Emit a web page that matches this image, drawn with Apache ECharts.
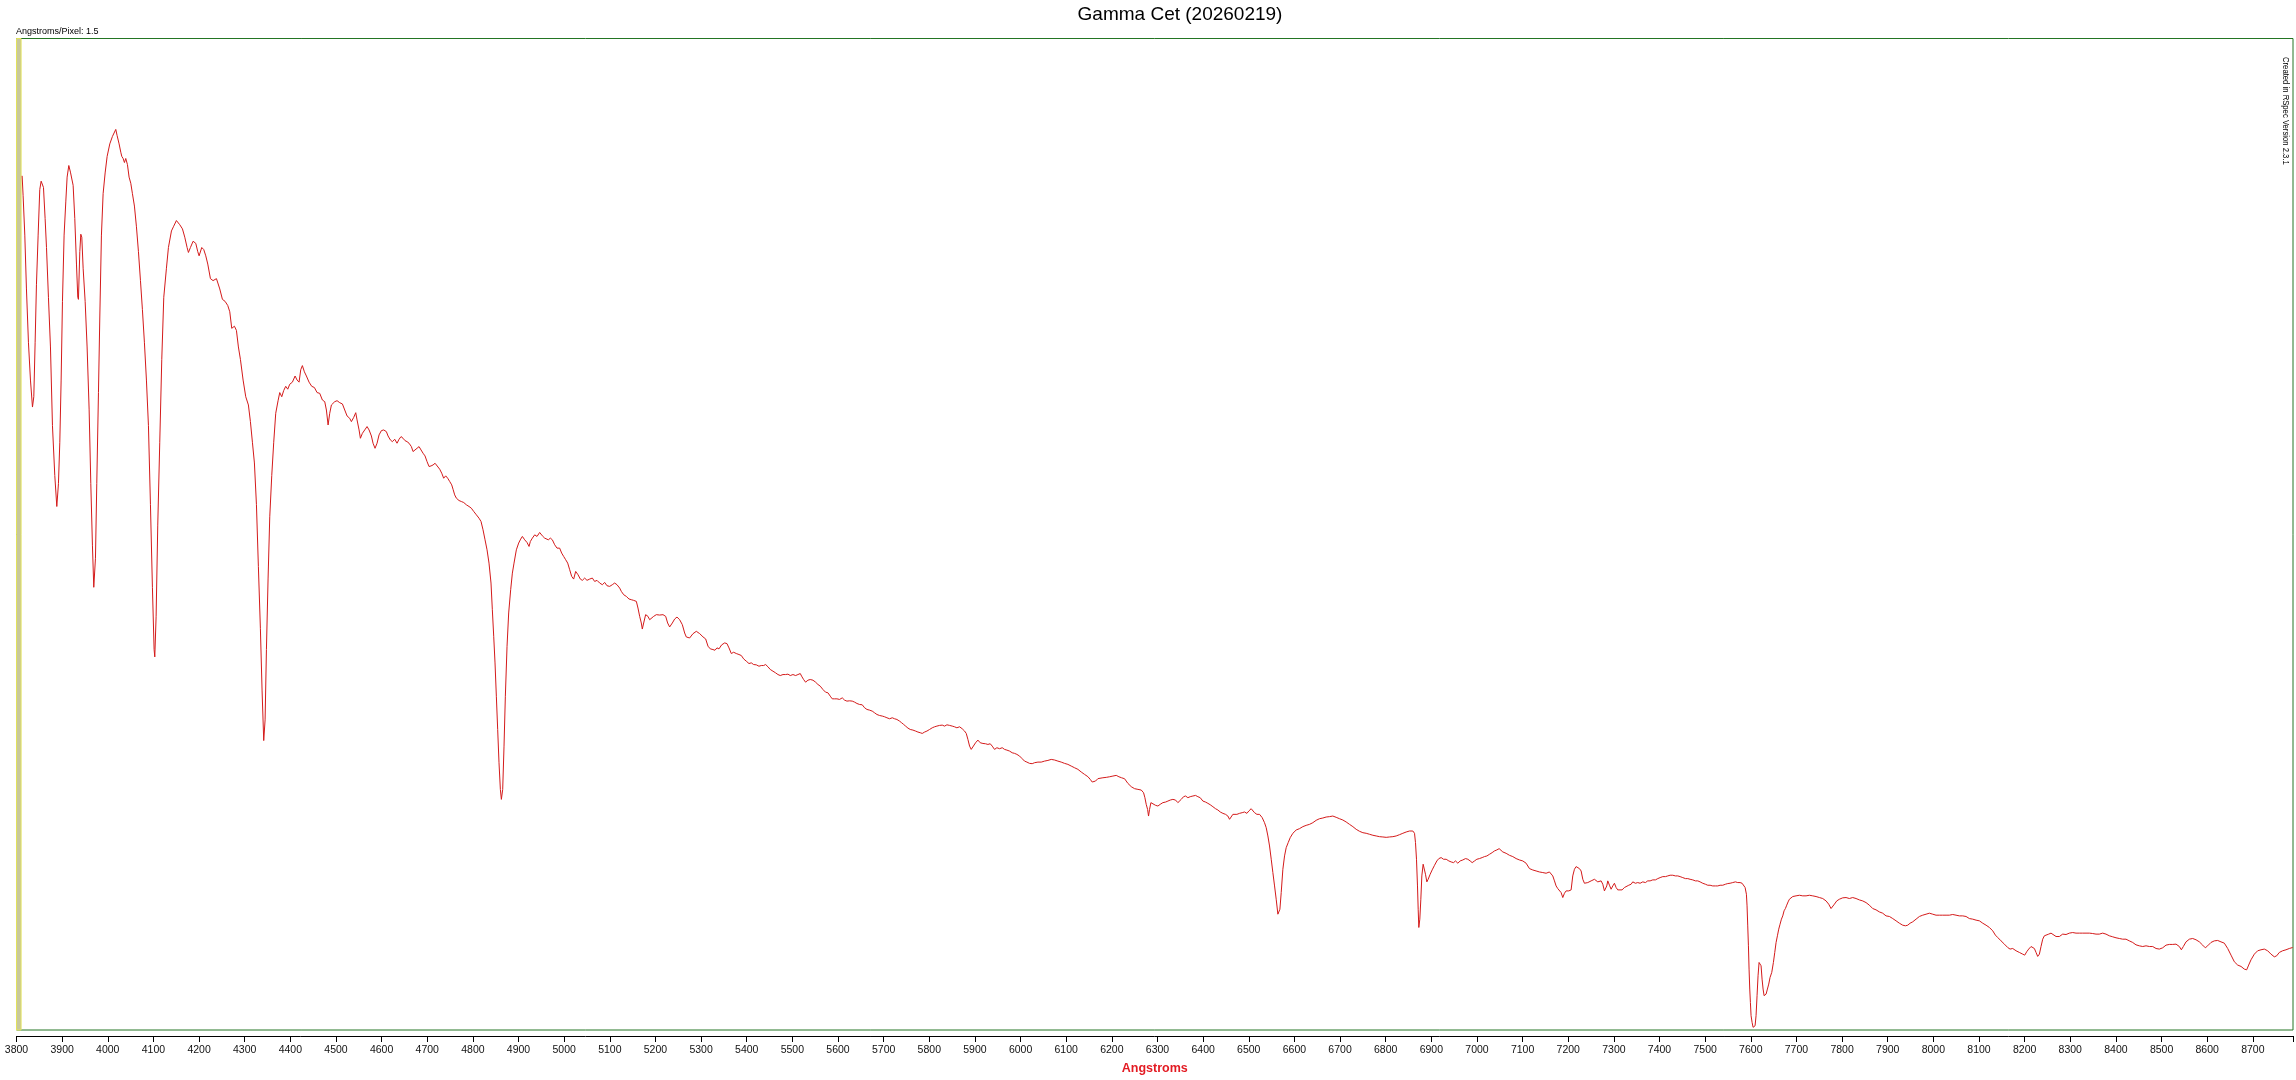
<!DOCTYPE html>
<html>
<head>
<meta charset="utf-8">
<script src="https://cdn.jsdelivr.net/npm/echarts@6/dist/echarts.min.js"></script>
<style>
html,body{margin:0;padding:0;background:#fff;}
#c{width:2296px;height:1080px;}
</style>
</head>
<body>
<div id="c"></div>
<script>
// Wavelength (Angstrom) / relative flux pairs, by spectral segment
const segBlue = [[3812.3,86.15],[3814.5,84.14],[3818.2,80.17],[3821.8,74.74],[3826.2,69.31],[3830.6,65.55],[3835.0,62.83],[3837.9,63.87],[3840.8,69.31],[3843.7,75.16],[3847.4,80.17],[3851.0,84.77],[3854.0,85.61],[3856.9,85.69],[3859.1,84.98],[3862.7,81.84],[3865.7,78.92],[3870.0,73.90],[3874.4,68.89],[3878.8,60.95],[3883.9,55.93],[3888.3,52.80],[3891.9,55.10],[3894.9,59.28],[3897.8,65.55],[3900.7,73.49],[3904.3,80.17],[3908.0,83.52],[3910.9,86.02],[3914.6,87.19],[3918.2,86.52],[3921.1,86.44],[3924.1,85.19],[3927.7,81.84],[3931.4,77.25],[3934.3,73.90],[3935.7,73.69],[3938.7,78.50],[3940.9,80.26],[3943.1,79.96],[3946.0,76.83],[3950.4,73.49],[3954.7,68.89],[3959.1,62.62],[3962.8,55.10],[3966.4,48.83],[3969.3,44.65],[3973.0,47.58],[3975.9,55.10],[3979.6,64.29],[3982.5,71.81],[3986.1,80.17],[3989.8,84.35],[3994.2,86.44],[3998.6,88.11],[4004.4,89.37],[4010.2,90.12],[4013.9,90.20],[4017.5,90.83],[4020.5,90.20],[4024.8,89.37],[4028.5,88.53],[4030.7,88.11],[4033.6,87.90],[4036.5,87.49],[4039.4,87.90],[4043.1,87.28],[4046.7,86.02],[4050.4,85.40],[4054.0,84.35],[4058.4,83.10],[4062.8,81.01],[4067.2,78.50],[4071.6,75.58],[4075.9,72.65],[4080.3,69.31],[4084.7,65.55],[4089.1,60.95],[4093.5,53.01],[4097.8,44.65],[4101.5,38.38],[4103.0,37.63],[4105.9,41.73],[4109.5,50.92],[4113.9,59.28],[4118.3,67.64],[4122.7,73.90],[4128.5,76.83],[4132.9,78.92],[4139.5,80.59],[4143.8,81.01],[4150.4,81.64],[4157.7,81.22],[4163.6,80.80],[4168.7,79.96],[4173.8,78.92],[4176.7,78.42],[4181.1,78.92],[4186.9,79.55],[4192.8,79.34],[4197.2,78.50],[4200.1,78.08],[4205.9,78.92],[4210.3,78.71],[4214.7,78.08],[4219.1,77.25],[4224.9,75.78],[4230.7,75.58],[4238.1,75.78],[4241.7,75.58],[4245.4,74.74],[4251.2,73.69],[4257.0,73.49],[4262.9,73.07],[4267.3,72.44],[4271.6,70.77],[4277.5,70.98],[4281.9,70.56],[4286.2,68.89],[4290.6,67.64],[4296.5,65.55],[4302.3,63.87],[4308.1,63.04],[4312.5,61.37],[4316.9,59.28],[4321.3,57.19],[4325.7,53.01],[4330.0,46.74],[4334.4,40.47],[4338.1,34.20],[4341.7,29.19],[4344.7,31.28],[4347.6,38.38],[4351.2,45.49],[4354.9,51.76],[4359.3,55.93],[4363.6,59.28],[4368.0,62.20],[4373.1,63.46],[4376.8,64.29],[4381.2,63.87],[4385.5,64.50],[4389.9,64.92],[4394.3,64.63],[4398.7,65.13],[4404.5,65.34],[4410.4,65.96],[4414.8,65.55],[4419.1,65.34],[4422.8,66.59],[4426.4,67.01],[4430.8,66.38],[4435.2,65.96],[4441.0,65.34],[4446.9,64.92],[4452.7,64.80],[4458.6,64.29]];

const segHbeta = [[4464.4,64.21],[4470.2,63.54],[4475.4,63.37],[4479.0,62.53],[4482.7,61.02],[4486.3,62.20],[4490.0,63.04],[4497.3,63.37],[4502.4,63.47],[4508.2,63.27],[4514.1,63.14],[4519.2,62.53],[4524.3,61.93],[4530.1,61.69],[4533.8,61.36],[4538.9,61.79],[4543.3,62.26],[4546.2,61.53],[4550.6,60.52],[4553.5,59.68],[4557.9,60.18],[4563.0,60.52],[4568.1,60.86],[4572.5,60.52],[4577.6,59.91],[4581.2,59.18],[4585.6,58.67],[4590.0,59.18],[4594.4,60.02],[4599.5,60.45],[4604.6,60.52],[4610.4,60.35],[4614.1,59.91],[4619.2,59.51],[4623.6,59.34],[4628.7,59.58],[4633.8,59.18],[4638.2,59.58],[4642.6,59.85],[4647.0,59.68],[4651.3,59.44],[4655.7,59.34],[4660.1,59.18],[4665.2,58.84],[4668.9,58.34],[4673.2,58.50],[4677.6,58.67],[4682.0,58.84],[4686.4,58.50],[4690.8,58.17],[4695.1,57.90],[4699.5,57.33],[4703.9,56.83],[4708.3,56.89],[4712.7,56.99],[4717.1,57.16],[4721.4,56.99],[4727.3,56.56],[4731.7,56.16],[4736.0,55.65],[4740.4,55.89],[4744.8,55.65],[4749.2,55.32],[4753.6,54.98],[4756.5,54.54],[4760.1,53.97],[4763.8,53.64],[4769.6,53.40],[4774.7,53.30],[4779.9,53.20],[4785.7,52.97],[4791.5,52.80],[4796.6,52.63],[4801.8,52.30],[4807.6,51.96],[4813.4,51.62],[4817.8,51.29],[4822.2,50.45],[4826.6,49.44],[4831.0,48.43],[4835.3,47.09],[4839.7,45.08],[4842.6,42.39],[4845.6,39.71],[4848.5,37.02],[4851.4,33.66],[4854.3,30.31],[4857.2,26.95],[4860.2,24.26],[4862.4,23.26],[4865.3,24.26],[4868.2,28.63],[4871.1,33.66],[4874.8,38.70],[4878.4,42.06],[4882.8,44.41],[4886.5,46.08],[4890.1,47.09],[4895.2,48.43],[4900.3,49.11],[4904.7,49.51],[4908.4,49.78],[4913.5,49.44],[4918.6,49.17],[4923.0,48.77],[4925.9,49.27],[4930.3,49.61],[4935.4,49.94],[4940.5,49.78],[4946.3,50.18],[4952.2,49.84],[4957.3,49.61],[4960.9,49.78],[4965.3,49.44],[4969.7,49.61],[4974.1,49.44],[4979.2,48.94],[4984.3,48.60],[4990.1,48.60],[4994.5,48.10],[4998.9,47.76],[5003.3,47.43],[5007.7,47.09],[5012.1,46.42],[5016.4,45.75],[5020.8,45.48],[5025.2,46.25],[5030.3,45.92],[5035.4,45.48],[5039.8,45.35],[5044.9,45.58],[5050.0,45.35],[5055.9,45.48],[5061.7,45.58],[5066.8,45.24],[5071.9,45.35],[5077.8,45.08],[5083.6,44.91],[5088.7,45.14],[5093.8,44.81],[5099.7,44.74],[5105.5,44.91],[5110.6,45.08],[5115.7,44.91],[5121.6,44.57],[5125.2,44.24],[5130.4,43.90],[5136.2,43.73],[5142.0,43.47],[5147.1,43.40],[5152.3,43.33],[5158.1,43.23],[5161.7,42.56],[5165.4,41.72],[5169.0,41.05],[5171.2,40.44],[5174.2,41.05],[5178.5,41.89],[5183.6,41.72],[5187.3,41.38],[5191.0,41.45],[5196.1,41.72],[5201.9,41.89],[5209.2,41.85],[5216.5,41.89],[5222.4,41.72],[5226.7,41.05],[5231.1,40.65],[5237.0,41.05],[5242.1,41.45],[5247.2,41.65],[5253.0,41.38],[5258.9,40.88],[5264.0,40.04],[5267.6,39.64],[5274.9,39.54],[5282.2,39.97],[5289.5,40.21]];

const segGreen = [[5296.8,39.98],[5304.1,39.65],[5310.0,39.44],[5315.1,38.71],[5320.2,38.44],[5326.0,38.37],[5330.4,38.30],[5334.8,38.54],[5339.2,38.44],[5345.0,38.84],[5351.6,39.04],[5356.7,38.97],[5361.1,38.54],[5366.2,37.97],[5371.3,38.10],[5377.1,37.97],[5383.0,37.87],[5388.1,37.77],[5393.2,37.43],[5399.0,37.20],[5404.9,36.96],[5410.0,37.03],[5415.1,36.86],[5420.9,36.83],[5426.8,36.69],[5431.9,36.76],[5437.0,36.76],[5441.4,36.86],[5446.5,36.63],[5451.6,36.36],[5457.4,36.19],[5463.3,36.02],[5468.4,35.85],[5473.5,35.75],[5479.4,35.85],[5485.2,35.85],[5490.3,35.89],[5495.4,35.75],[5501.3,35.85],[5507.1,35.75],[5512.2,35.85],[5517.3,35.95],[5520.2,35.69],[5524.6,35.35],[5529.0,35.08],[5534.1,35.28],[5539.2,35.35],[5545.1,35.28],[5550.9,35.08],[5556.0,34.85],[5561.1,34.68],[5567.0,34.34],[5572.8,34.07],[5577.9,34.01],[5583.0,33.67],[5587.4,33.40],[5592.5,33.40],[5597.6,33.40],[5603.5,33.34],[5609.3,33.50],[5614.4,33.27],[5619.5,33.17],[5625.4,33.20],[5631.2,33.17],[5636.3,33.07],[5641.5,32.93],[5647.3,32.83],[5653.1,32.80],[5658.2,32.50],[5663.4,32.33],[5669.2,32.26],[5675.0,32.16],[5680.2,31.99],[5685.3,31.82],[5691.1,31.72],[5697.0,31.66],[5702.1,31.59],[5707.2,31.49],[5713.0,31.39],[5718.9,31.49],[5724.0,31.39],[5729.1,31.32],[5734.9,31.15],[5739.3,30.99],[5743.7,30.82],[5748.1,30.65],[5753.2,30.45],[5758.3,30.31],[5764.1,30.25],[5770.0,30.15],[5775.1,30.05],[5780.2,29.98],[5784.6,29.91],[5789.7,30.05],[5794.8,30.15],[5800.6,30.31],[5806.5,30.48],[5811.6,30.58],[5816.7,30.65],[5822.5,30.72],[5828.4,30.75],[5833.5,30.65],[5838.6,30.78],[5844.5,30.72],[5850.3,30.65],[5855.4,30.58],[5860.5,30.48],[5866.4,30.58],[5872.2,30.38],[5877.3,30.15],[5881.0,29.91],[5884.6,29.31],[5888.3,28.63],[5891.9,28.30],[5895.6,28.47],[5901.4,28.97],[5906.5,29.24],[5911.6,28.97],[5917.5,28.90],[5923.3,28.87],[5928.4,28.80],[5933.5,28.87],[5937.9,28.63],[5943.0,28.30],[5948.1,28.47],[5954.0,28.37],[5959.8,28.47],[5964.9,28.30],[5970.0,28.23],[5975.9,28.13],[5981.7,27.96],[5986.8,27.90],[5991.9,27.80],[5997.8,27.63],[6003.6,27.36],[6008.7,27.12],[6013.9,27.02],[6019.7,26.89],[6025.5,26.86],[6030.7,26.96],[6038.0,27.02],[6045.3,27.02],[6052.6,27.12],[6059.9,27.19],[6067.2,27.29],[6074.5,27.23],[6081.8,27.12],[6089.1,27.02],[6096.4,26.89],[6103.7,26.79],[6111.0,26.62],[6118.3,26.45],[6125.6,26.29],[6132.9,26.02],[6140.2,25.78],[6147.5,25.55],[6152.6,25.28],[6157.0,25.01],[6159.9,24.88],[6164.3,25.11],[6169.4,25.35]];

const segHalpha = [[6173.1,25.28],[6180.4,25.44],[6187.7,25.48],[6195.0,25.54],[6202.3,25.61],[6209.6,25.68],[6215.5,25.54],[6221.3,25.44],[6227.9,25.34],[6235.2,24.87],[6242.5,24.54],[6249.8,24.34],[6257.1,24.27],[6264.4,24.20],[6269.5,23.93],[6272.4,23.43],[6275.3,22.76],[6278.3,22.25],[6280.4,21.58],[6282.6,22.25],[6285.6,22.93],[6289.9,22.76],[6295.8,22.66],[6300.9,22.59],[6306.0,22.76],[6311.8,22.93],[6317.7,22.99],[6322.8,23.09],[6327.9,23.19],[6333.7,23.26],[6339.6,23.19],[6344.7,22.93],[6348.4,23.09],[6352.0,23.26],[6357.1,23.53],[6361.5,23.60],[6366.6,23.43],[6371.7,23.53],[6377.6,23.60],[6383.4,23.66],[6388.5,23.53],[6393.6,23.43],[6399.5,23.09],[6405.3,22.99],[6410.4,22.86],[6415.5,22.72],[6421.4,22.52],[6427.2,22.32],[6432.3,22.19],[6437.5,21.99],[6443.3,21.85],[6449.1,21.75],[6454.2,21.58],[6457.9,21.25],[6461.5,21.42],[6465.2,21.75],[6468.8,21.92],[6474.0,21.75],[6479.8,21.85],[6485.6,21.92],[6490.7,21.99],[6495.9,21.85],[6500.2,22.09],[6505.3,22.32],[6509.0,22.25],[6512.6,21.92],[6517.8,21.75],[6523.6,21.75],[6529.4,21.42],[6534.5,20.91],[6538.2,20.41],[6541.9,19.57],[6545.5,18.56],[6549.2,17.22],[6552.8,15.88],[6556.5,14.53],[6560.1,13.19],[6563.8,11.68],[6566.0,11.51],[6568.2,12.18],[6571.1,13.86],[6574.7,16.21],[6578.4,17.56],[6582.0,18.39],[6586.4,18.90],[6590.8,19.40],[6596.6,19.84],[6603.9,20.17],[6611.2,20.31],[6618.5,20.51],[6625.8,20.64],[6633.1,20.74],[6640.4,20.91],[6647.7,21.15],[6655.0,21.31],[6662.3,21.38],[6669.6,21.48],[6676.9,21.52],[6684.2,21.58],[6691.5,21.45],[6698.8,21.31],[6706.1,21.18],[6713.4,20.98],[6720.8,20.74],[6728.1,20.51],[6735.4,20.24],[6742.7,20.04],[6750.0,19.90],[6757.3,19.84],[6764.6,19.74],[6771.9,19.64],[6779.2,19.57],[6786.5,19.50],[6793.8,19.47],[6801.1,19.43],[6808.4,19.47],[6815.7,19.50],[6823.0,19.57],[6830.3,19.70],[6837.6,19.84],[6844.9,19.97],[6852.2,20.07],[6859.5,20.07],[6863.2,19.84],[6865.3,18.90],[6867.5,17.22],[6869.7,14.53],[6871.2,12.18],[6872.6,10.34],[6874.8,11.18],[6877.0,13.19],[6879.2,15.54],[6882.1,16.72],[6885.1,16.55],[6887.2,15.71],[6890.2,14.94],[6893.1,15.21],[6897.5,15.71],[6901.9,16.15],[6907.0,16.61],[6912.1,17.05],[6916.5,17.29],[6921.6,17.39],[6926.7,17.22],[6932.5,17.22],[6938.4,17.05],[6943.5,16.95],[6948.6,16.88],[6953.0,17.05],[6958.1,16.82],[6963.2,17.05],[6969.0,17.15],[6974.9,17.29],[6980.0,17.22],[6985.1,17.05],[6989.5,16.88],[6994.6,17.05],[6999.7,17.22],[7005.5,17.29],[7011.4,17.39],[7016.5,17.49],[7021.6,17.55],[7027.4,17.72],[7033.3,17.89],[7038.4,18.06],[7043.5,18.16],[7048.6,18.29]];

const segAband = [[7056.6,17.96],[7063.9,17.82],[7071.2,17.62],[7078.5,17.49],[7085.8,17.29],[7093.1,17.15],[7100.4,17.05],[7107.7,16.82],[7115.0,16.28],[7122.3,16.14],[7129.6,16.04],[7136.9,15.94],[7144.2,15.88],[7151.5,15.81],[7158.8,15.94],[7162.5,15.81],[7166.1,15.54],[7169.8,15.04],[7173.4,14.53],[7177.1,14.26],[7180.7,14.20],[7184.4,13.86],[7188.0,13.36],[7191.7,13.79],[7195.3,14.03],[7201.2,14.03],[7206.3,14.13],[7209.9,15.54],[7213.6,16.21],[7217.2,16.48],[7220.9,16.48],[7224.5,16.28],[7228.2,16.04],[7231.9,15.20],[7235.5,14.80],[7239.2,14.60],[7242.8,14.87],[7246.5,14.70],[7250.1,15.04],[7253.8,14.87],[7257.4,15.20],[7261.1,15.27],[7264.7,14.94],[7268.4,14.80],[7272.0,15.04],[7275.7,14.70],[7279.3,14.03],[7281.5,13.86],[7284.4,14.53],[7286.6,15.04],[7290.3,14.60],[7293.9,14.20],[7297.6,14.53],[7301.2,14.80],[7304.9,14.37],[7308.5,14.13],[7312.2,14.20],[7318.0,14.13],[7323.1,14.37],[7326.8,14.53],[7332.6,14.60],[7337.7,14.70],[7341.4,14.94],[7347.2,14.80],[7352.3,14.87],[7357.5,14.80],[7363.3,14.94],[7369.1,14.87],[7374.2,15.04],[7379.4,15.04],[7385.2,15.14],[7391.0,15.14],[7396.2,15.27],[7401.3,15.37],[7407.1,15.47],[7413.0,15.47],[7418.1,15.54],[7423.2,15.61],[7429.0,15.61],[7434.8,15.54],[7440.0,15.54],[7445.1,15.47],[7450.9,15.37],[7456.8,15.27],[7461.9,15.27],[7467.0,15.20],[7472.8,15.14],[7478.7,15.04],[7483.8,15.04],[7488.9,14.94],[7494.7,14.80],[7500.6,14.70],[7505.7,14.60],[7510.8,14.60],[7516.6,14.53],[7522.5,14.53],[7527.6,14.53],[7532.7,14.60],[7538.5,14.60],[7544.4,14.70],[7549.5,14.77],[7554.6,14.80],[7560.4,14.87],[7566.3,14.94],[7571.4,14.87],[7576.5,14.87],[7580.9,14.80],[7584.5,14.60],[7587.5,14.37],[7590.4,13.69],[7591.8,12.52],[7593.3,10.50],[7594.8,8.49],[7596.2,6.14],[7597.7,4.13],[7599.1,2.78],[7600.6,1.44],[7602.8,0.77],[7605.0,0.27],[7607.2,0.10],[7609.4,0.43],[7611.5,1.44],[7613.7,3.46],[7615.9,5.47],[7618.1,6.81],[7620.3,6.98],[7622.5,6.48],[7624.7,5.13],[7626.9,4.13],[7629.1,3.46],[7631.3,3.29],[7633.5,3.62],[7636.4,4.13],[7639.3,4.63],[7642.2,5.30],[7645.9,5.81],[7649.5,6.81],[7652.5,7.82],[7655.4,8.83],[7658.3,9.50],[7661.2,10.17],[7664.1,10.67],[7667.1,11.18],[7670.0,11.51],[7672.9,12.02],[7675.8,12.25],[7678.7,12.59],[7681.7,12.92],[7684.6,13.19],[7688.2,13.36],[7691.9,13.46],[7699.2,13.53],[7706.5,13.59],[7713.8,13.53],[7721.1,13.53],[7728.4,13.59],[7735.7,13.53],[7743.0,13.46],[7750.3,13.36],[7757.6,13.26],[7764.9,13.02],[7770.7,12.69],[7775.8,12.25],[7779.5,12.35],[7783.2,12.69],[7788.3,13.02],[7794.1,13.19],[7801.4,13.33],[7808.7,13.36],[7816.0,13.26],[7823.3,13.36],[7830.6,13.26],[7837.9,13.12],[7845.2,13.02],[7852.5,12.85],[7859.8,12.59],[7867.1,12.25],[7874.4,12.12],[7881.7,11.91],[7889.0,11.78],[7896.3,11.51]];

const segNearIR = [[7903.7,11.45],[7911.0,11.24],[7918.3,11.01],[7925.6,10.77],[7932.9,10.57],[7938.8,10.51],[7943.9,10.57],[7949.0,10.77],[7954.8,10.91],[7962.1,11.18],[7969.4,11.45],[7976.7,11.58],[7984.0,11.68],[7991.3,11.78],[7998.6,11.68],[8005.9,11.58],[8013.2,11.58],[8020.5,11.58],[8027.8,11.58],[8035.1,11.58],[8042.4,11.65],[8049.7,11.58],[8057.0,11.51],[8064.3,11.51],[8071.6,11.45],[8078.9,11.24],[8086.3,11.18],[8093.6,11.08],[8100.9,11.01],[8108.2,10.77],[8115.5,10.57],[8122.8,10.34],[8130.1,10.00],[8135.9,9.57],[8141.0,9.33],[8148.3,8.99],[8155.6,8.66],[8162.9,8.32],[8168.0,8.16],[8173.9,8.22],[8181.2,7.99],[8188.5,7.82],[8195.8,7.65],[8200.2,7.55],[8204.5,7.89],[8208.9,8.16],[8214.0,8.42],[8217.7,8.42],[8221.3,8.22],[8225.0,7.82],[8228.6,7.42],[8232.3,7.65],[8235.9,8.42],[8239.6,9.16],[8243.2,9.50],[8246.9,9.67],[8252.7,9.67],[8257.8,9.77],[8261.5,9.57],[8268.8,9.43],[8276.1,9.43],[8283.4,9.67],[8290.7,9.63],[8298.0,9.77],[8305.3,9.83],[8312.6,9.77],[8319.9,9.77],[8327.2,9.77],[8334.5,9.77],[8341.8,9.77],[8349.1,9.73],[8356.4,9.67],[8363.7,9.67],[8371.0,9.77],[8378.3,9.67],[8385.6,9.50],[8392.9,9.40],[8400.2,9.30],[8407.5,9.23],[8414.8,9.16],[8422.1,9.16],[8429.4,8.99],[8436.7,8.83],[8444.0,8.59],[8451.3,8.49],[8458.7,8.42],[8466.0,8.49],[8473.3,8.42],[8480.6,8.42],[8487.9,8.22],[8495.2,8.16],[8502.5,8.29],[8509.8,8.56],[8517.1,8.63],[8524.4,8.63],[8531.7,8.66],[8539.0,8.42],[8543.4,8.09],[8547.7,8.42],[8553.6,8.89],[8560.9,9.16],[8568.2,9.23],[8575.5,9.10],[8582.8,8.89],[8590.1,8.56],[8595.9,8.29],[8601.0,8.49],[8608.3,8.83],[8615.6,8.99],[8622.9,9.03],[8630.2,8.89],[8637.5,8.76],[8644.9,8.22],[8652.2,7.55],[8659.5,6.88],[8666.8,6.55],[8674.1,6.41],[8681.4,6.14],[8686.5,6.07],[8690.9,6.55],[8696.0,7.08],[8703.3,7.65],[8710.6,7.99],[8717.9,8.09],[8725.2,8.16],[8732.5,7.99],[8739.8,7.65],[8747.1,7.38],[8752.2,7.48],[8758.0,7.82],[8765.3,7.99],[8772.6,8.09],[8779.9,8.22],[8787.2,8.32]];

const xMin = 3800, xMax = 8788, xStep = 100;
const calibBand = [3800, 3810];
const titleText = 'Gamma Cet (20260219)';
const dispersionText = 'Angstroms/Pixel: 1.5';
const creditText = 'Created in RSpec Version 2.3.1';
const xName = 'Angstroms';

const spectrum = [].concat(segBlue, segHbeta, segGreen, segHalpha, segAband, segNearIR);
const FONT = '"Liberation Sans", Arial, sans-serif';

const chart = echarts.init(document.getElementById('c'));
chart.setOption({
  backgroundColor: '#ffffff',
  animation: false,
  grid: {left: 16.5, right: 1.5, top: 38.5, bottom: 48.5, show: true, borderColor: '#237523', borderWidth: 1},
  xAxis: {
    type: 'value', min: xMin, max: xMax, interval: xStep, offset: 6,
    axisLine: {show: true, onZero: false, lineStyle: {color: '#000', width: 1}},
    axisTick: {show: true, length: 6, lineStyle: {color: '#000', width: 1}},
    axisLabel: {margin: 9, fontSize: 10.5, color: '#111', fontFamily: FONT,
      formatter: v => (v % xStep === 0 ? String(v) : '')},
    splitLine: {show: false},
    name: xName, nameLocation: 'middle', nameGap: 26,
    nameTextStyle: {color: '#e31b23', fontWeight: 'bold', fontSize: 12.5, fontFamily: FONT}
  },
  yAxis: {type: 'value', min: 0, max: 100, show: false},
  series: [{
    type: 'line', data: spectrum, symbol: 'none', showSymbol: false,
    lineStyle: {color: '#d41a1a', width: 1},
    markArea: {silent: true, data: [[{xAxis: calibBand[0]}, {xAxis: calibBand[1]}]],
      itemStyle: {color: '#c8c89c', borderColor: '#e2e25a', borderWidth: 1}}
  }],
  graphic: [
    {type: 'text', x: 1180, y: 15, style: {text: titleText, fontSize: 19, fontFamily: FONT, fill: '#000', align: 'center', verticalAlign: 'middle'}},
    {type: 'text', x: 16, y: 32, style: {text: dispersionText, fontSize: 9, fontFamily: FONT, fill: '#000', align: 'left', verticalAlign: 'middle'}},
    {type: 'text', x: 2286, y: 57, rotation: -Math.PI / 2, scaleX: 0.81, style: {text: creditText, fontSize: 9.5, fontFamily: FONT, fill: '#000', align: 'left', verticalAlign: 'middle'}}
  ]
});
</script>
</body>
</html>
